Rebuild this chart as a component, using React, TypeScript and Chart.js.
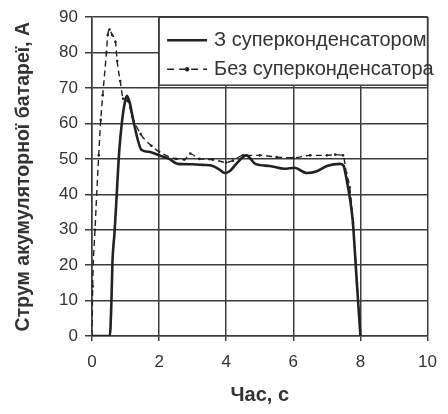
import React, { useEffect, useRef } from 'react';
import { Chart, registerables } from 'chart.js';
Chart.register(...registerables);

// З суперконденсатором (solid)
const timeWith = [0, 0.53, 0.58, 0.61, 0.67, 0.72, 0.81, 0.9, 0.98, 1.04, 1.12, 1.25, 1.48, 1.7, 2.0, 2.3, 2.55, 3.0, 3.3, 3.6, 3.8, 3.95, 4.1, 4.3, 4.6, 4.87, 5.3, 5.74, 6.03, 6.4, 6.7, 7.0, 7.4, 7.5, 7.55, 7.63, 7.7, 7.77, 7.9, 8.0];
const currentWith = [0, 0, 10, 21, 29, 37, 52, 61, 66, 67.8, 66, 60, 52.5, 52, 51, 50, 48.6, 48.5, 48.3, 48, 47, 46, 46.5, 48.6, 51, 48.6, 48, 47.2, 47.5, 46, 46.5, 48, 48.6, 48, 46, 42, 38, 32.6, 14, 0];

// Без суперконденсатора (dashed)
const timeWithout = [0, 0.02, 0.09, 0.2, 0.26, 0.32, 0.43, 0.47, 0.52, 0.6, 0.7, 0.75, 0.84, 0.93, 1.05, 1.2, 1.45, 1.77, 2.0, 2.5, 2.75, 2.93, 3.2, 3.6, 4.0, 4.2, 4.5, 5.0, 5.5, 6.0, 6.5, 7.0, 7.25, 7.48, 7.58, 7.68, 7.78, 7.9, 8.0];
const currentWithout = [0, 14, 30, 51, 61, 68, 80, 85, 86.5, 85, 83, 77.6, 72, 67, 66.5, 62, 57, 53.7, 52, 50, 49.8, 51.5, 50, 49.8, 49, 49.5, 51, 51, 50.5, 50.3, 51, 51, 51.2, 51, 46, 42, 32, 15, 0];

const xTicks = [0, 2, 4, 6, 8, 10];
const yTicks = [0, 10, 20, 30, 40, 50, 60, 70, 80, 90];
const seriesLabels = ['З суперконденсатором', 'Без суперконденсатора'];
const xTitle = 'Час, с';
const yTitle = 'Струм акумуляторної батареї, А';

const ink = '#222';
const gridColor = '#3c3c3c';
const textColor = '#333';
const family = '"Liberation Sans", Arial, sans-serif';

const legendPlugin = {
  id: 'insideLegend',
  afterDatasetsDraw(chart: any) {
    const { ctx, chartArea, scales } = chart;
    const left = scales.x.getPixelForValue(2);
    const right = chartArea.right;
    const top = chartArea.top;
    const bottom = top + 68;
    ctx.save();
    ctx.fillStyle = '#fff';
    ctx.fillRect(left, top, right - left, bottom - top);
    ctx.strokeStyle = gridColor;
    ctx.lineWidth = 1.5;
    ctx.strokeRect(left, top, right - left, bottom - top);
    const rows = [top + 23, top + 52];
    const x0 = left + 8;
    const x1 = left + 48;
    ctx.strokeStyle = ink;
    ctx.lineWidth = 2.5;
    ctx.setLineDash([]);
    ctx.beginPath();
    ctx.moveTo(x0, rows[0]);
    ctx.lineTo(x1, rows[0]);
    ctx.stroke();
    ctx.lineWidth = 1.5;
    ctx.setLineDash([7, 5]);
    ctx.beginPath();
    ctx.moveTo(x0, rows[1]);
    ctx.lineTo(x1, rows[1]);
    ctx.stroke();
    ctx.setLineDash([]);
    ctx.fillStyle = ink;
    ctx.beginPath();
    ctx.arc((x0 + x1) / 2, rows[1], 2.2, 0, Math.PI * 2);
    ctx.fill();
    ctx.fillStyle = textColor;
    ctx.font = `20px ${family}`;
    ctx.textBaseline = 'middle';
    ctx.textAlign = 'left';
    ctx.fillText(seriesLabels[0], left + 55, rows[0]);
    ctx.fillText(seriesLabels[1], left + 55, rows[1]);
    ctx.restore();
  },
};

export default function App() {
  const ref = useRef<HTMLCanvasElement>(null);
  useEffect(() => {
    if (!ref.current) return;
    const chart = new Chart(ref.current, {
      type: 'line',
      data: {
        datasets: [
          {
            label: seriesLabels[0],
            data: timeWith.map((t, i) => ({ x: t, y: currentWith[i] })),
            borderColor: ink,
            backgroundColor: ink,
            borderWidth: 2.6,
            pointRadius: 0,
            cubicInterpolationMode: 'monotone',
          },
          {
            label: seriesLabels[1],
            data: timeWithout.map((t, i) => ({ x: t, y: currentWithout[i] })),
            borderColor: ink,
            backgroundColor: ink,
            borderWidth: 1.4,
            borderDash: [6, 4],
            pointRadius: 1.3,
            pointBorderWidth: 0,
            cubicInterpolationMode: 'monotone',
          },
        ],
      },
      options: {
        animation: false,
        responsive: true,
        maintainAspectRatio: false,
        layout: { padding: { left: 0, right: 11, top: 15, bottom: 0 } },
        plugins: { legend: { display: false }, tooltip: { enabled: false } },
        scales: {
          x: {
            type: 'linear',
            min: 0,
            max: 10,
            afterBuildTicks: (s: any) => {
              s.ticks = xTicks.map((v) => ({ value: v }));
            },
            afterFit: (s: any) => {
              s.height = 78;
            },
            grid: { color: gridColor, lineWidth: 1.5, tickLength: 5 },
            border: { color: gridColor, width: 1.5 },
            ticks: { color: textColor, font: { family, size: 17 }, padding: 11, maxRotation: 0 },
            title: {
              display: true,
              text: xTitle,
              color: textColor,
              font: { family, size: 20, weight: 'bold', lineHeight: 1 },
              padding: { top: 0, bottom: 9 },
            },
          },
          y: {
            type: 'linear',
            min: 0,
            max: 90,
            afterBuildTicks: (s: any) => {
              s.ticks = yTicks.map((v) => ({ value: v }));
            },
            afterFit: (s: any) => {
              s.width = 92;
            },
            grid: { color: gridColor, lineWidth: 1.5, tickLength: 7 },
            border: { color: gridColor, width: 1.5 },
            ticks: { color: textColor, font: { family, size: 17 }, padding: 7 },
            title: {
              display: true,
              text: yTitle,
              color: textColor,
              font: { family, size: 19.5, weight: 'bold', lineHeight: 1 },
              padding: { top: 14, bottom: 0 },
            },
          },
        },
      },
      plugins: [legendPlugin],
    });
    return () => chart.destroy();
  }, []);
  return (
    <div style={{ position: 'fixed', left: 0, top: 0, width: 448, height: 414, background: '#fff' }}>
      <canvas ref={ref} />
    </div>
  );
}
